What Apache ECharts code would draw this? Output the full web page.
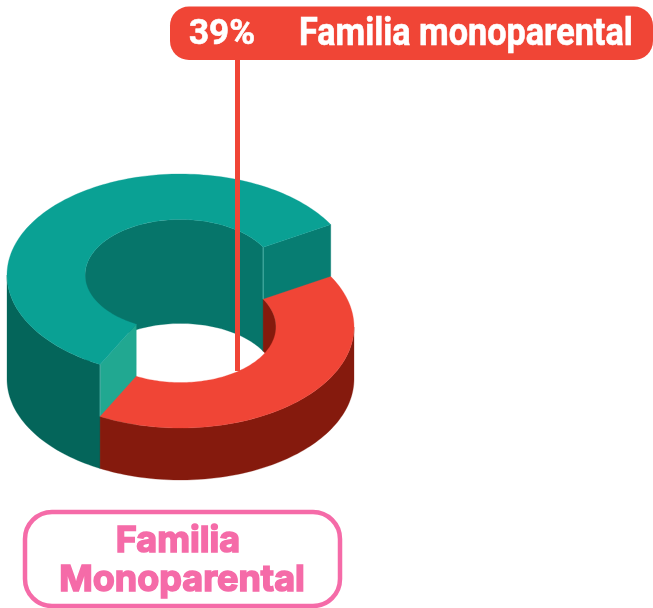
<!DOCTYPE html>
<html>
<head>
<meta charset="utf-8">
<style>html,body{margin:0;padding:0;background:#fff}#c{width:653px;height:608px}</style>
<script src="https://cdn.jsdelivr.net/npm/echarts@6/dist/echarts.min.js"></script>
</head>
<body>
<div id="c"></div>
<script>
const categories = ['Familia monoparental', 'Otros'];
const seriesValues = [41, 59];
const calloutPercent = '39%';
const calloutName = 'Familia monoparental';
const boxTitleLines = ['Familia', 'Monoparental'];

const chart = echarts.init(document.getElementById('c'), null, {renderer: 'canvas'});

const CX = 180.5, BASE_CY = 379, RX = 173.5, RY = 101, INNER = 0.55, START = 330;
const styleByCategory = {
  'Familia monoparental': {height: 52, top: '#F04536', outer: '#851A0D', inner: '#851A0D'},
  'Otros': {height: 104, top: '#0AA194', outer: '#04655A', inner: '#06756A',
            cutStart: '#21A891', cutEnd: '#077D72', seam: '#4FB3A8'}
};
const PINK = '#F56BA8', RED = '#F04536';

const total = seriesValues.reduce((a, b) => a + b, 0);
let acc = START;
const slices = categories.map((name, i) => {
  const sweep = seriesValues[i] / total * 360;
  const row = [i, acc % 360, acc % 360 + sweep];
  acc += sweep;
  return row;
});
// Back slice first, so the lower front slice paints over its cut faces.
const drawOrder = slices.slice().reverse();

function pt(cy, k, deg) {
  const t = deg * Math.PI / 180;
  return [CX + RX * k * Math.cos(t), cy + RY * k * Math.sin(t)];
}
function arc(cy, k, a, b) {
  const n = Math.max(2, Math.ceil(Math.abs(b - a) / 1.5));
  const out = [];
  for (let i = 0; i <= n; i++) out.push(pt(cy, k, a + (b - a) * i / n));
  return out;
}
function poly(points, fill) {
  return {type: 'polygon', shape: {points}, style: {fill, stroke: fill, lineWidth: 0.3}};
}
function wall(topCy, k, a, b, fill) {
  return poly(arc(topCy, k, a, b).concat(arc(BASE_CY, k, b, a)), fill);
}
function clip(a, b, lo, hi) {
  const s = Math.max(a, lo), e = Math.min(b, hi);
  return e > s ? [s, e] : null;
}
function renderSlice(params, api) {
  const name = categories[api.value(0)];
  const st = styleByCategory[name];
  const a = api.value(1), b = api.value(2);
  const topCy = BASE_CY - st.height;
  const kids = [];
  // inner wall: only the far half of the hole faces the viewer
  const back = clip(a, b, 180, 360);
  if (back) kids.push(wall(topCy, INNER, back[0], back[1], st.inner));
  // cut faces
  [[b, st.cutEnd], [a, st.cutStart]].forEach(([ang, fill]) => {
    if (!fill) return;
    kids.push(poly([pt(topCy, INNER, ang), pt(topCy, 1, ang), pt(BASE_CY, 1, ang), pt(BASE_CY, INNER, ang)], fill));
  });
  // outer wall: near half
  [clip(a, b, 0, 180), clip(a, b, 360, 540)].forEach(r => {
    if (r) kids.push(wall(topCy, 1, r[0], r[1], st.outer));
  });
  // top face
  kids.push(poly(arc(topCy, 1, a, b).concat(arc(topCy, INNER, b, a)), st.top));
  // light seams along the vertical cut edges
  if (st.seam) {
    const downTo = BASE_CY - 52;
    [[b, INNER], [a, 1]].forEach(([ang, k]) => {
      const p = pt(topCy, k, ang), q = pt(downTo, k, ang);
      kids.push({type: 'line', shape: {x1: p[0], y1: p[1], x2: q[0], y2: q[1]},
        style: {stroke: st.seam, lineWidth: 1}});
    });
  }
  return {type: 'group', children: kids};
}

chart.setOption({
  animation: false,
  backgroundColor: '#fff',
  series: [{
    type: 'custom',
    coordinateSystem: 'none',
    renderItem: renderSlice,
    data: drawOrder,
    silent: true,
    z: 2
  }],
  graphic: [
    {type: 'rect', z: 5, shape: {x: 235, y: 50, width: 5, height: 321}, style: {fill: RED}},
    {type: 'rect', z: 6, shape: {x: 170, y: 6.5, width: 483, height: 53.5, r: 19}, style: {fill: RED}},
    {type: 'text', z: 7, x: 189, y: 35.5, style: {text: calloutPercent, fill: '#fff', stroke: '#fff', lineWidth: 0.6,
      font: '700 35px Roboto', textAlign: 'left', textVerticalAlign: 'middle'}},
    {type: 'text', z: 7, x: 299, y: 35, scaleX: 0.9, style: {text: calloutName, fill: '#fff', stroke: '#fff', lineWidth: 0.6,
      font: '700 38px Roboto', textAlign: 'left', textVerticalAlign: 'middle'}},
    {type: 'rect', z: 5, shape: {x: 25, y: 512, width: 315, height: 94, r: 27},
      style: {fill: '#fff', stroke: PINK, lineWidth: 4.5}},
    {type: 'text', z: 7, x: 178, y: 541, style: {text: boxTitleLines[0], fill: PINK, stroke: PINK, lineWidth: 1.6, lineJoin: 'round',
      font: '700 36px Inter', textAlign: 'center', textVerticalAlign: 'middle'}},
    {type: 'text', z: 7, x: 182, y: 580, style: {text: boxTitleLines[1], fill: PINK, stroke: PINK, lineWidth: 1.6, lineJoin: 'round',
      font: '700 36px Inter', textAlign: 'center', textVerticalAlign: 'middle'}}
  ]
});
</script>
</body>
</html>
